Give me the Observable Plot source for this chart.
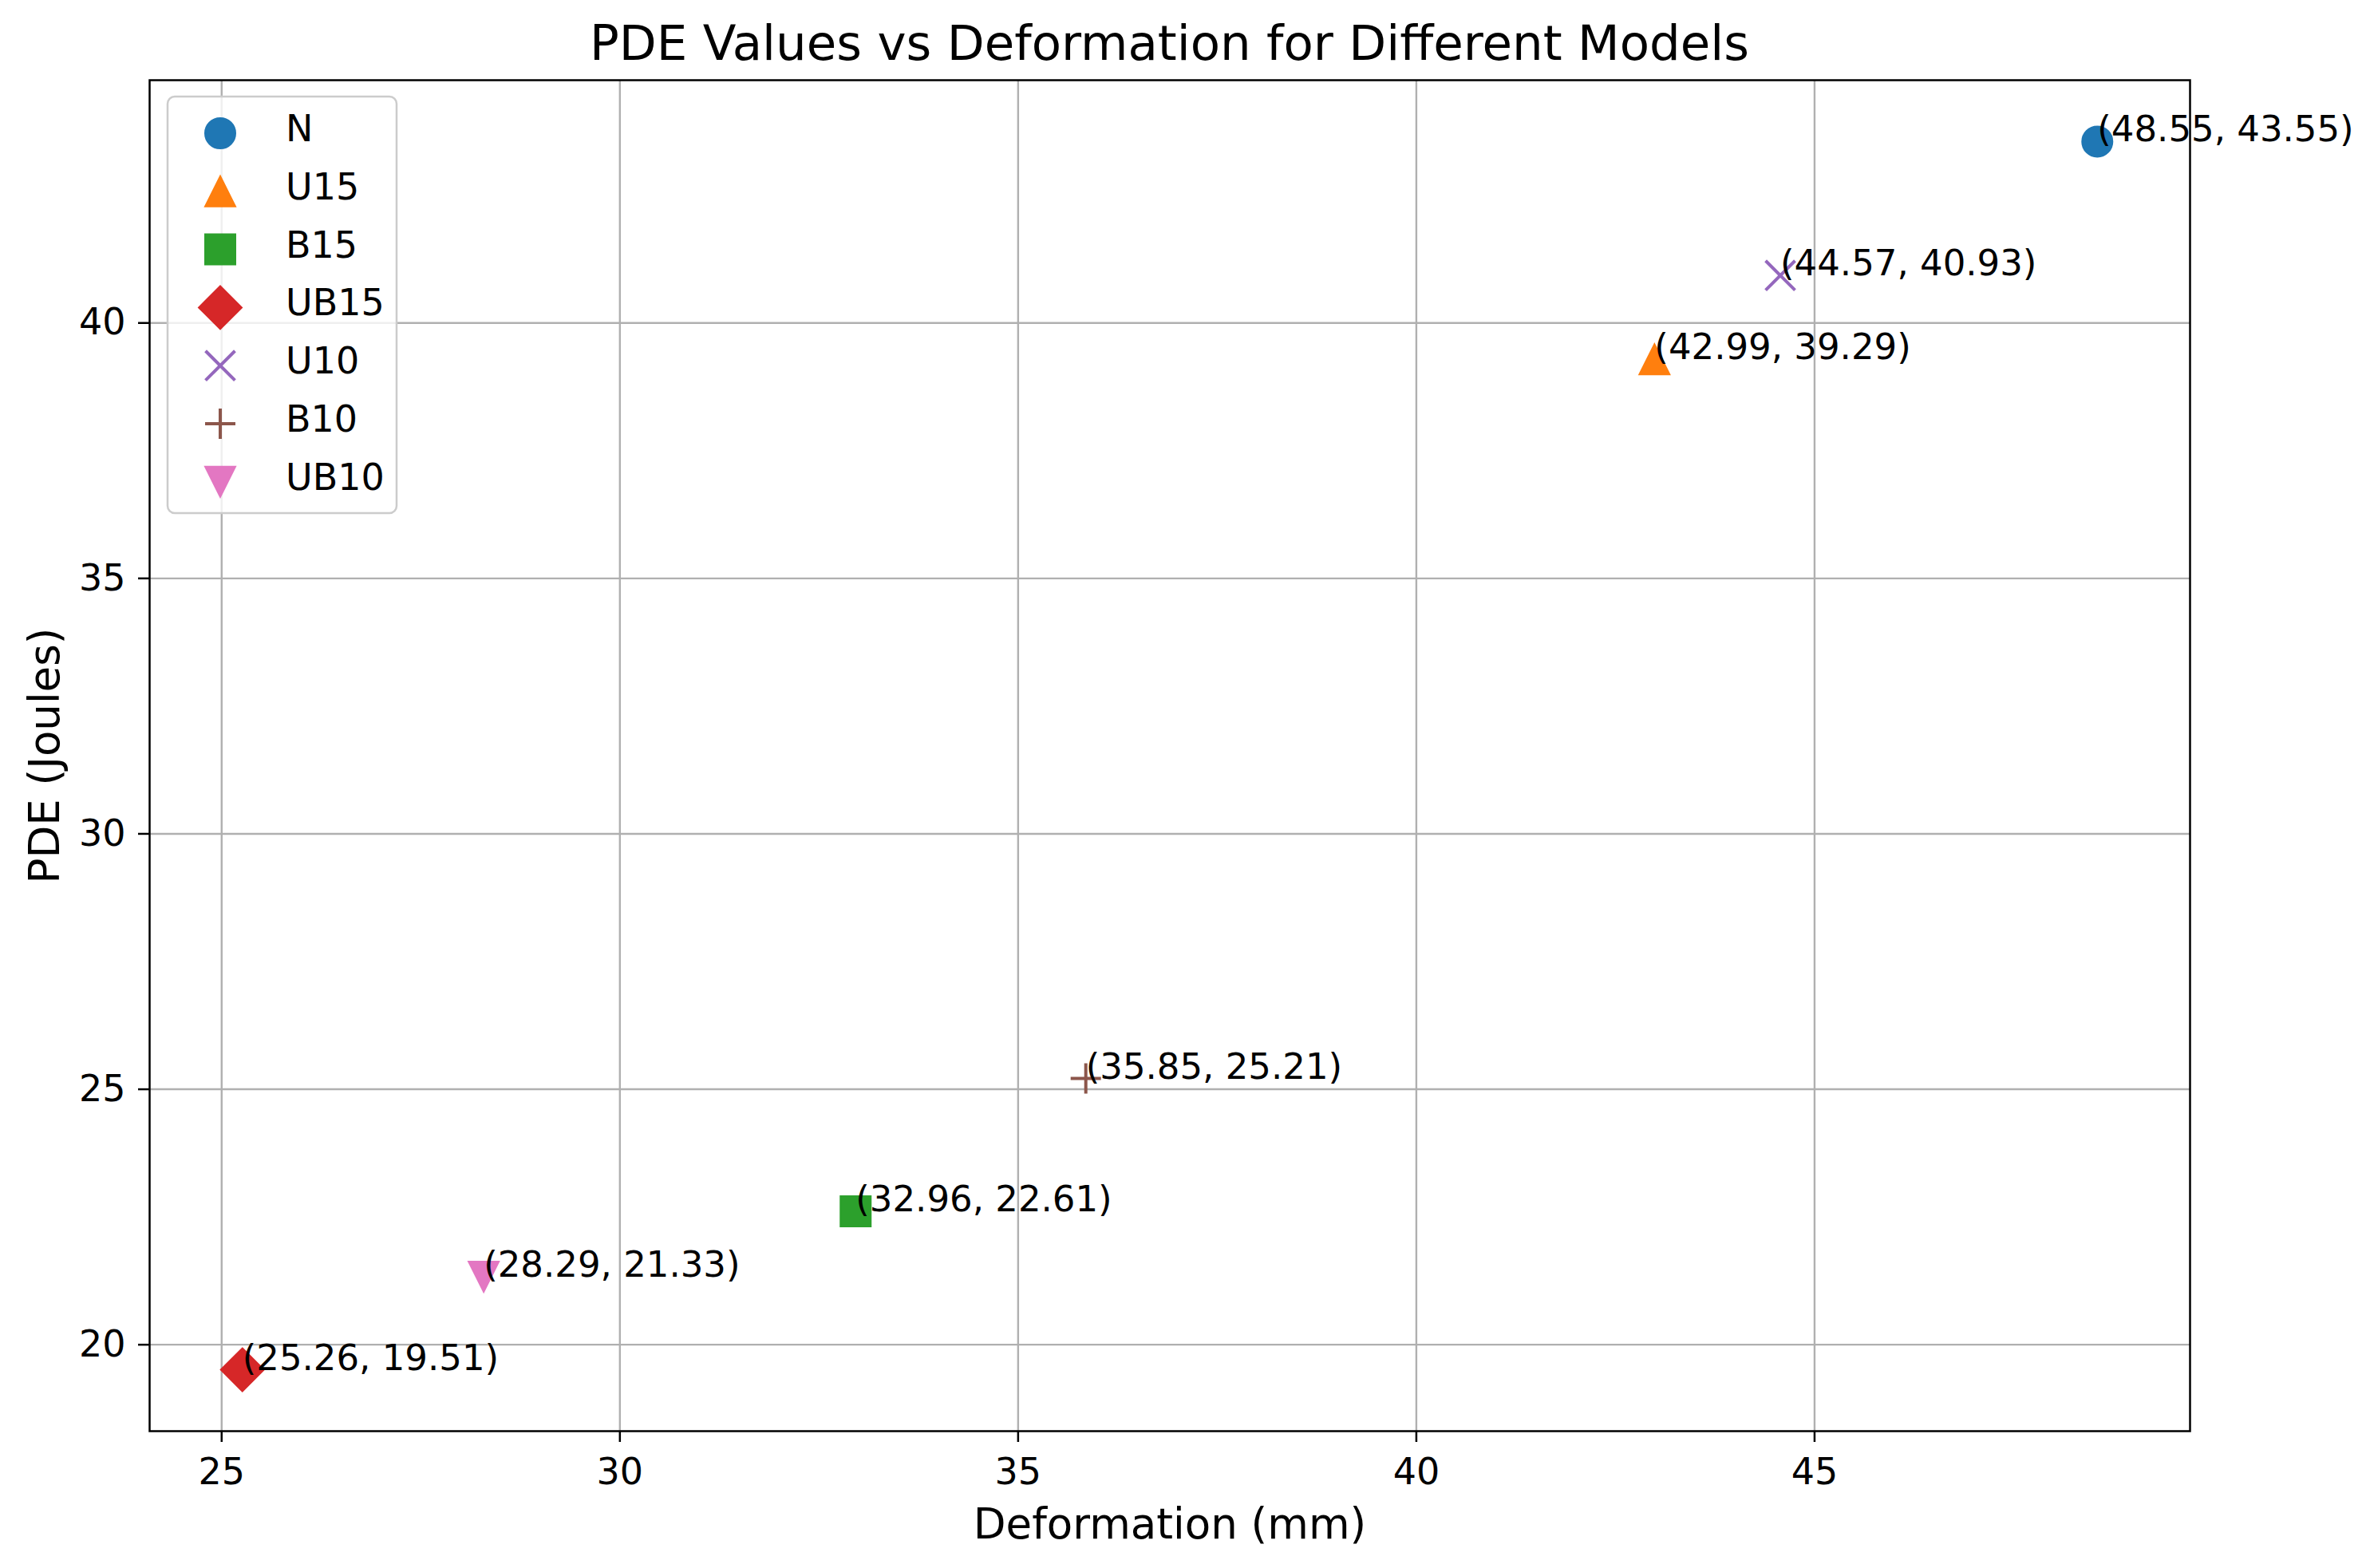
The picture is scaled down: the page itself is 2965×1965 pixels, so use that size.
<!DOCTYPE html>
<html>
<head>
<meta charset="utf-8">
<script src="https://cdn.jsdelivr.net/npm/d3@7"></script>
<script src="https://cdn.jsdelivr.net/npm/@observablehq/plot@0.6"></script>
<style>
  html, body { margin: 0; padding: 0; background: #fff; }
  #page { position: relative; width: 2965px; height: 1965px; background: #fff; font-family: "DejaVu Sans", sans-serif; overflow: hidden; }
  #title { position: absolute; left: 187px; width: 2557px; top: 23px; text-align: center; font-size: 61px; line-height: 1; color: #000; white-space: nowrap; }
  #chart { position: absolute; left: 0; top: 90px; }
  #legend { position: absolute; left: 210px; top: 121px; }
</style>
</head>
<body>
<div id="page">
  <div id="title">PDE Values vs Deformation for Different Models</div>
  <div id="chart"></div>
  <div id="legend"></div>
</div>
<script>
// ---- data ----
const models = ["N", "U15", "B15", "UB15", "U10", "B10", "UB10"];
const deformation = [48.55, 42.99, 32.96, 25.26, 44.57, 35.85, 28.29];
const pde = [43.55, 39.29, 22.61, 19.51, 40.93, 25.21, 21.33];
const colors = ["#1f77b4", "#ff7f0e", "#2ca02c", "#d62728", "#9467bd", "#8c564b", "#e377c2"];
const xTicks = [25, 30, 35, 40, 45];
const yTicks = [20, 25, 30, 35, 40];

// ---- custom marker symbols (matplotlib o ^ s D x + v) ----
const rad = s => Math.sqrt(s / Math.PI);
const symCircle = {draw(c, s) { const r = rad(s); c.moveTo(r, 0); c.arc(0, 0, r, 0, 2 * Math.PI); c.closePath(); }};
const symTriUp = {draw(c, s) { const r = rad(s); c.moveTo(0, -r); c.lineTo(r, r); c.lineTo(-r, r); c.closePath(); }};
const symSquare = {draw(c, s) { const r = rad(s); c.moveTo(-r, -r); c.lineTo(r, -r); c.lineTo(r, r); c.lineTo(-r, r); c.closePath(); }};
const symDiamond = {draw(c, s) { const r = rad(s) * 1.42; c.moveTo(0, -r); c.lineTo(r, 0); c.lineTo(0, r); c.lineTo(-r, 0); c.closePath(); }};
const symX = {draw(c, s) { const r = rad(s) * 0.97; c.moveTo(-r, -r); c.lineTo(r, r); c.moveTo(r, -r); c.lineTo(-r, r); }};
const symPlus = {draw(c, s) { const r = rad(s) * 1.0; c.moveTo(-r, 0); c.lineTo(r, 0); c.moveTo(0, -r); c.lineTo(0, r); }};
const symTriDown = {draw(c, s) { const r = rad(s); c.moveTo(0, r); c.lineTo(r, -r); c.lineTo(-r, -r); c.closePath(); }};
const symbols = [symCircle, symTriUp, symSquare, symDiamond, symX, symPlus, symTriDown];
const stroked = [false, false, false, false, true, true, false];

const R = 19;
const idx = d3.range(models.length);

// matplotlib-like 5% margins
const [xmin, xmax] = d3.extent(deformation);
const [ymin, ymax] = d3.extent(pde);
const xm = (xmax - xmin) * 0.05, ym = (ymax - ymin) * 0.05;

const dotMarks = idx.map(i => Plot.dot([i], {
  x: j => deformation[j],
  y: j => pde[j],
  r: R,
  symbol: symbols[i],
  fill: stroked[i] ? "none" : colors[i],
  stroke: colors[i],
  strokeWidth: stroked[i] ? 4 : 2
}));

const chart = Plot.plot({
  width: 2965,
  height: 1875,
  marginTop: 10,
  marginBottom: 172,
  marginLeft: 187,
  marginRight: 221,
  style: {fontFamily: "DejaVu Sans, sans-serif", fontSize: "45px", background: "white", color: "black", overflow: "visible"},
  x: {domain: [xmin - xm, xmax + xm]},
  y: {domain: [ymin - ym, ymax + ym]},
  marks: [
    Plot.gridX({ticks: xTicks, stroke: "#b0b0b0", strokeOpacity: 1, strokeWidth: 2.4}),
    Plot.gridY({ticks: yTicks, stroke: "#b0b0b0", strokeOpacity: 1, strokeWidth: 2.4}),
    Plot.axisX({ticks: xTicks, tickSize: 14, tickPadding: 20, label: null, fontSize: 46, stroke: "black", strokeWidth: 2.5, tickFormat: d => String(d)}),
    Plot.axisY({ticks: yTicks, tickSize: 14, tickPadding: 16, label: null, fontSize: 46, stroke: "black", strokeWidth: 2.5, tickFormat: d => String(d)}),
    ...dotMarks,
    Plot.text(idx, {
      x: i => deformation[i],
      y: i => pde[i],
      text: i => `(${deformation[i].toFixed(2)}, ${pde[i].toFixed(2)})`,
      textAnchor: "start",
      lineAnchor: "bottom",
      fontSize: 45,
      fill: "black"
    }),
    Plot.frame({stroke: "black", strokeWidth: 2.5}),
    Plot.text(["Deformation (mm)"], {frameAnchor: "bottom", textAnchor: "middle", lineAnchor: "bottom", dy: 134, fontSize: 53, fill: "black"}),
    Plot.text(["PDE (Joules)"], {frameAnchor: "left", textAnchor: "middle", lineAnchor: "bottom", rotate: -90, dx: -114, fontSize: 53, fill: "black"})
  ]
});
document.getElementById("chart").appendChild(chart);

// ---- legend (matplotlib-style box, upper left) ----
const LW = 287, LH = 522;
const lsvg = d3.select("#legend").append("svg")
  .attr("width", LW + 4).attr("height", LH + 4)
  .style("overflow", "visible");
lsvg.append("rect")
  .attr("x", 0).attr("y", 0).attr("width", LW).attr("height", LH)
  .attr("rx", 9).attr("ry", 9)
  .attr("fill", "white").attr("fill-opacity", 0.8)
  .attr("stroke", "#cccccc").attr("stroke-width", 2.5);
const rowY = i => 46 + i * 72.8;
idx.forEach(i => {
  const g = lsvg.append("g").attr("transform", `translate(66,${rowY(i)})`);
  g.append("path")
    .attr("d", d3.symbol().type(symbols[i]).size(Math.PI * R * R)())
    .attr("fill", stroked[i] ? "none" : colors[i])
    .attr("stroke", colors[i])
    .attr("stroke-width", stroked[i] ? 4 : 2);
  lsvg.append("text")
    .attr("x", 148).attr("y", rowY(i) + 10)
    .attr("font-family", "DejaVu Sans, sans-serif")
    .attr("font-size", 46)
    .attr("fill", "black")
    .text(models[i]);
});
</script>
</body>
</html>
